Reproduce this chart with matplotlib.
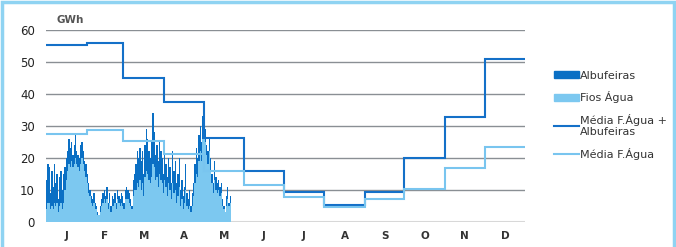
import numpy as np
import matplotlib.pyplot as plt
from matplotlib.patches import Patch, Rectangle
from matplotlib.lines import Line2D

# month boundaries (day of year) and labels
month_edges = [0, 31, 59, 90, 120, 151, 181, 212, 243, 273, 304, 334, 365]
month_labels = ["J", "F", "M", "A", "M", "J", "J", "A", "S", "O", "N", "D"]

# monthly averages (GWh)
media_total = [55.3, 55.9, 45.0, 37.5, 26.3, 16.0, 9.4, 5.2, 9.3, 20.0, 32.9, 51.0]
media_fios = [27.3, 28.7, 25.3, 21.3, 16.0, 11.5, 7.8, 4.5, 7.2, 10.2, 16.9, 23.5]

# daily production, Jan 1 - May 21 (GWh)
fios_agua = [4, 6, 6, 4, 5, 4, 6, 5, 6, 3, 5, 6, 4, 6,
             10, 13, 16, 18, 17, 19, 17, 18,
             20, 18, 17, 16, 18, 20, 18, 16, 14, 12,
             9, 8, 6, 5, 6, 4, 4, 2, 2, 3,
             5, 6, 7, 6, 7, 4, 6, 3, 5, 5, 6, 4, 7, 6, 5, 6, 5, 4, 7, 7,
             7, 6, 5, 4, 8, 10,
             10, 12, 11, 13, 10, 12, 8, 14, 16, 15,
             13, 12, 14, 18, 17, 13, 14, 11,
             15, 13, 12, 9, 13, 11, 8, 12, 10, 7,
             12, 9, 10, 6, 8, 11, 5, 7, 4, 6, 10, 5, 4, 5, 3, 5,
             8, 12, 15, 14, 19, 22, 19, 26, 28, 25, 21, 18, 22,
             16, 12, 9, 13, 10, 9, 10, 8, 9,
             5, 4, 3, 5, 7, 5, 6]
albufeiras = [9, 12, 11, 5, 11, 7, 12, 7, 9, 4, 9, 10, 6, 9,
              7, 7, 6, 8, 6, 6, 4, 6,
              7, 4, 4, 4, 6, 5, 4, 3, 4, 3,
              3, 2, 2, 2, 3, 2, 1, 1, 0, 2,
              2, 3, 3, 2, 4, 2, 3, 2, 3, 2, 3, 2, 3, 2, 2, 3, 3, 2, 3, 4,
              3, 3, 2, 1, 5, 5,
              8, 10, 9, 10, 9, 10, 7, 10, 13, 11,
              9, 8, 11, 16, 11, 8, 10, 8,
              10, 9, 8, 6, 9, 7, 6, 8, 7, 5,
              10, 7, 9, 6, 7, 9, 5, 6, 4, 5, 8, 4, 3, 5, 2, 4,
              4, 6, 8, 6, 8, 8, 6, 7, 4, 4, 3, 4, 4,
              4, 3, 3, 6, 4, 3, 3, 3, 3,
              2, 1, 0, 3, 4, 1, 2]

dark = "#0a6fc4"
light = "#7cc8f0"
days = np.arange(len(fios_agua)) + 0.5

fig = plt.figure(figsize=(6.76, 2.47), dpi=100)
ax = fig.add_axes([0.068, 0.1024, 0.709, 0.776])

for y in range(10, 61, 10):
    ax.axhline(y, color="#8a8f94", lw=1.0, zorder=0)
ax.axhline(0, color="#d8d8d8", lw=1.5, zorder=0)

ax.bar(days, fios_agua, width=1.0, color=light, lw=0, zorder=2)
ax.bar(days, albufeiras, width=1.0, bottom=fios_agua, color=dark, lw=0, zorder=2)

ax.stairs(media_total, month_edges, baseline=None, color="#1470c8", lw=1.5, zorder=3)
ax.stairs(media_fios, month_edges, baseline=None, color="#79c5ef", lw=1.5, zorder=3)

ax.set_xlim(0, 365)
ax.set_ylim(0, 60)
ax.set_yticks(range(0, 61, 10))
ax.set_xticks([(a + b) / 2 for a, b in zip(month_edges[:-1], month_edges[1:])])
ax.set_xticklabels(month_labels, fontsize=7.5, fontweight="bold", color="#333333")
ax.tick_params(axis="both", length=0)
ax.tick_params(axis="y", labelsize=8.5, labelcolor="#222222", pad=8)
ax.tick_params(axis="x", pad=7)
for s in ax.spines.values():
    s.set_visible(False)

fig.text(0.083, 0.905, "GWh", fontsize=7.5, fontweight="bold", color="#555555")

handles = [Patch(color=dark), Patch(color=light),
           Line2D([], [], color="#1470c8", lw=1.5),
           Line2D([], [], color="#79c5ef", lw=1.5)]
labels = ["Albufeiras", "Fios Água", "Média F.Água +\nAlbufeiras", "Média F.Água"]
fig.legend(handles, labels, loc="upper left", bbox_to_anchor=(0.805, 0.755),
           frameon=False, fontsize=8, handlelength=2.2, handleheight=0.6,
           handletextpad=0.1, labelspacing=0.95, labelcolor="#333333")

fig.patches.append(Rectangle((0.003, -0.01), 0.994, 1.0, transform=fig.transFigure,
                             fill=False, edgecolor="#8fd3f2", lw=2.5))

fig.savefig("out.png", dpi=100)
